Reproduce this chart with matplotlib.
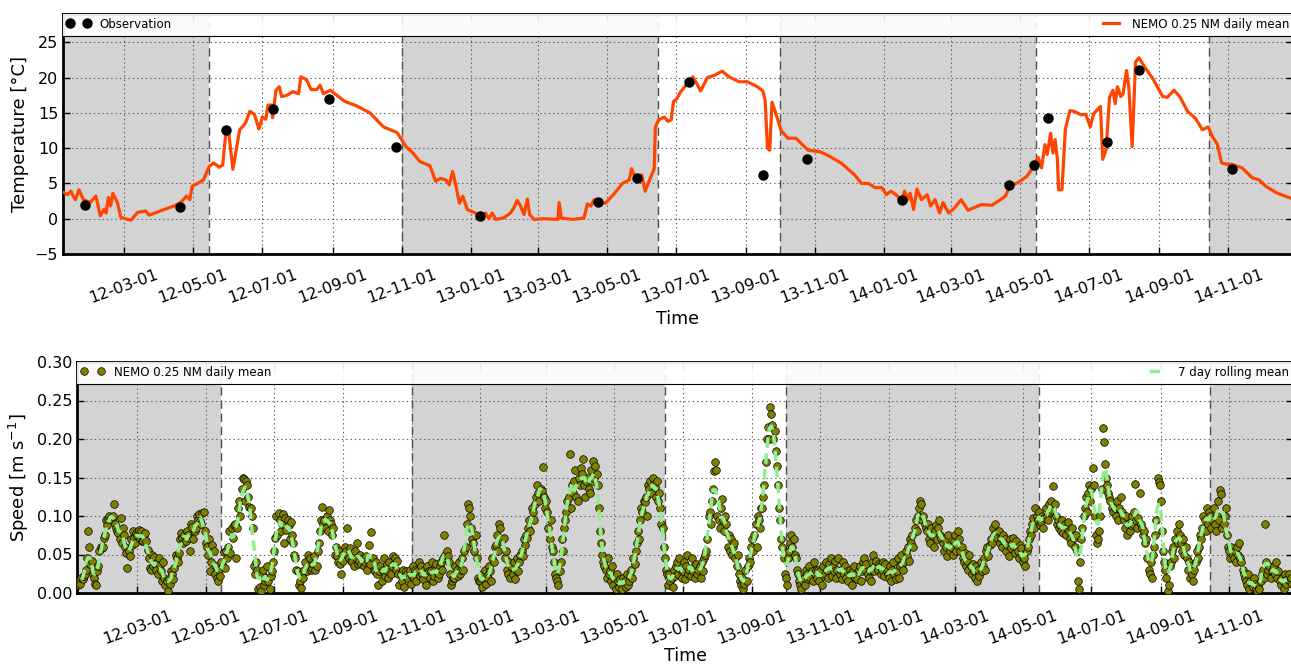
import numpy as np
import pandas as pd
import matplotlib
matplotlib.use('Agg')
import matplotlib.pyplot as plt
import matplotlib.dates as mdates
from matplotlib.patches import Rectangle

# ------------------------------------------------------------
# Temperature: NEMO daily mean (line vertices) and observations
# ------------------------------------------------------------
temp_dates = [
    '2012-01-08', '2012-01-11', '2012-01-14', '2012-01-16', '2012-01-18', '2012-01-21',
    '2012-01-25', '2012-01-31', '2012-02-05', '2012-02-09', '2012-02-12', '2012-02-14',
    '2012-02-16', '2012-02-18', '2012-02-20', '2012-02-24', '2012-02-27', '2012-03-04',
    '2012-03-07', '2012-03-13', '2012-03-20', '2012-03-23', '2012-04-02', '2012-04-14',
    '2012-04-20', '2012-04-25', '2012-04-28', '2012-04-30', '2012-05-06', '2012-05-10',
    '2012-05-15', '2012-05-19', '2012-05-24', '2012-05-27', '2012-05-30', '2012-06-01',
    '2012-06-05', '2012-06-08', '2012-06-11', '2012-06-16', '2012-06-20', '2012-06-24',
    '2012-06-28', '2012-07-01', '2012-07-04', '2012-07-06', '2012-07-09', '2012-07-10',
    '2012-07-13', '2012-07-16', '2012-07-18', '2012-07-23', '2012-07-28', '2012-08-02',
    '2012-08-04', '2012-08-09', '2012-08-13', '2012-08-18', '2012-08-21', '2012-08-24',
    '2012-08-30', '2012-09-03', '2012-09-12', '2012-09-22', '2012-10-04', '2012-10-16',
    '2012-10-28', '2012-11-05', '2012-11-11', '2012-11-17', '2012-11-26', '2012-12-01',
    '2012-12-05', '2012-12-10', '2012-12-13', '2012-12-16', '2012-12-19', '2012-12-22',
    '2012-12-25', '2012-12-29', '2013-01-05', '2013-01-10', '2013-01-14', '2013-01-17',
    '2013-01-20', '2013-01-23', '2013-01-30', '2013-02-05', '2013-02-08', '2013-02-11',
    '2013-02-14', '2013-02-17', '2013-02-20', '2013-02-22', '2013-02-26', '2013-03-07',
    '2013-03-19', '2013-03-20', '2013-03-22', '2013-04-01', '2013-04-11', '2013-04-14',
    '2013-04-17', '2013-04-20', '2013-04-26', '2013-04-30', '2013-05-08', '2013-05-15',
    '2013-05-21', '2013-05-23', '2013-05-27', '2013-06-01', '2013-06-04', '2013-06-08',
    '2013-06-12', '2013-06-13', '2013-06-16', '2013-06-21', '2013-06-24', '2013-06-27',
    '2013-06-29', '2013-07-02', '2013-07-05', '2013-07-11', '2013-07-16', '2013-07-19',
    '2013-07-23', '2013-07-29', '2013-08-04', '2013-08-11', '2013-08-17', '2013-08-26',
    '2013-09-02', '2013-09-10', '2013-09-16', '2013-09-18', '2013-09-20', '2013-09-22',
    '2013-09-24', '2013-09-28', '2013-10-02', '2013-10-08', '2013-10-15', '2013-10-26',
    '2013-11-05', '2013-11-12', '2013-11-24', '2013-12-06', '2013-12-12', '2013-12-18',
    '2013-12-24', '2013-12-30', '2014-01-03', '2014-01-07', '2014-01-13', '2014-01-16',
    '2014-01-19', '2014-01-22', '2014-01-24', '2014-01-27', '2014-01-30', '2014-02-03',
    '2014-02-08', '2014-02-11', '2014-02-15', '2014-02-19', '2014-02-22', '2014-02-27',
    '2014-03-04', '2014-03-10', '2014-03-16', '2014-03-28', '2014-04-06', '2014-04-12',
    '2014-04-18', '2014-04-22', '2014-04-29', '2014-05-07', '2014-05-11', '2014-05-14',
    '2014-05-17', '2014-05-20', '2014-05-23', '2014-05-25', '2014-05-28', '2014-05-30',
    '2014-06-01', '2014-06-03', '2014-06-04', '2014-06-07', '2014-06-10', '2014-06-14',
    '2014-06-18', '2014-06-24', '2014-06-28', '2014-07-02', '2014-07-05', '2014-07-11',
    '2014-07-13', '2014-07-16', '2014-07-19', '2014-07-22', '2014-07-24', '2014-07-26',
    '2014-07-29', '2014-07-31', '2014-08-03', '2014-08-05', '2014-08-08', '2014-08-11',
    '2014-08-14', '2014-08-19', '2014-08-26', '2014-09-04', '2014-09-08', '2014-09-14',
    '2014-09-19', '2014-09-26', '2014-10-03', '2014-10-09', '2014-10-14', '2014-10-18',
    '2014-10-22', '2014-10-26', '2014-10-31', '2014-11-04', '2014-11-13', '2014-11-22',
    '2014-11-28', '2014-12-04', '2014-12-13', '2014-12-21', '2014-12-28',
]
temp_values = [
    3.7, 3.4, 3.9, 3.2, 2.7, 4.1,
    2.7, 2.3, 3.2, 0.4, 1.3, 0.8,
    3.0, 1.8, 3.6, 2.3, 0.2, -0.1,
    -0.2, 0.9, 1.1, 0.5, 1.1, 1.8,
    2.3, 3.2, 2.7, 4.6, 5.1, 5.5,
    7.4, 7.9, 7.3, 7.6, 12.6, 12.6,
    7.0, 9.8, 12.6, 13.5, 15.2, 14.8,
    12.7, 14.4, 14.1, 16.1, 16.1, 14.3,
    18.2, 18.7, 17.3, 17.5, 18.0, 17.7,
    20.1, 19.7, 18.3, 18.3, 18.9, 17.7,
    18.2, 17.7, 16.6, 16.0, 15.0, 13.0,
    12.2, 10.2, 9.3, 8.1, 7.5, 5.3,
    5.7, 5.5, 4.8, 6.7, 4.6, 2.2,
    3.2, 1.3, 0.8, 0.4, 0.8, 0.0,
    0.8, -0.1, 0.1, 0.8, 1.5, 2.6,
    1.8, 0.6, 2.8, 0.6, -0.1, 0.0,
    -0.1, 2.3, 0.1, -0.1, 0.1, 2.1,
    1.8, 2.7, 2.2, 2.2, 3.6, 5.0,
    5.5, 7.1, 5.5, 6.2, 3.9, 5.5,
    7.1, 13.0, 14.0, 14.4, 13.8, 14.0,
    16.6, 17.0, 17.9, 19.1, 20.1, 19.3,
    18.1, 20.0, 20.3, 20.9, 20.1, 19.4,
    19.4, 18.8, 18.1, 16.7, 10.0, 9.7,
    16.5, 14.6, 12.5, 11.4, 11.4, 9.7,
    9.5, 9.0, 7.9, 6.2, 5.0, 5.0,
    4.4, 4.4, 3.4, 3.9, 3.2, 2.3,
    3.9, 2.7, 3.6, 1.3, 4.2, 2.7,
    3.4, 1.8, 2.7, 0.8, 2.3, 0.8,
    1.5, 2.7, 1.2, 2.0, 1.9, 2.5,
    3.2, 4.6, 5.1, 6.0, 6.9, 7.9,
    8.7, 7.2, 10.5, 9.1, 12.1, 9.3,
    11.2, 8.4, 4.1, 4.1, 12.7, 15.3,
    15.2, 14.7, 14.8, 13.0, 14.9, 15.9,
    8.4, 9.8, 17.2, 18.2, 16.3, 18.7,
    17.3, 17.7, 21.0, 18.7, 10.2, 22.2,
    22.8, 21.5, 19.9, 17.3, 17.2, 18.2,
    17.3, 15.2, 14.2, 12.6, 13.0, 11.6,
    10.6, 7.9, 7.7, 7.7, 7.2, 5.8,
    5.5, 4.6, 3.7, 3.2, 2.8,
]

obs_dates = [
    '2012-01-26', '2012-04-19', '2012-05-30', '2012-07-10', '2012-08-29', '2012-10-27',
    '2013-01-09', '2013-04-23', '2013-05-28', '2013-07-13', '2013-09-16', '2013-10-25',
    '2014-01-17', '2014-04-21', '2014-05-13', '2014-05-26', '2014-07-17', '2014-08-14',
    '2014-11-04',
]
obs_values = [
    1.9, 1.6, 12.5, 15.5, 16.9, 10.1,
    0.4, 2.4, 5.7, 19.3, 6.2, 8.4,
    2.6, 4.8, 7.6, 14.2, 10.9, 21.0,
    7.0,
]

# ------------------------------------------------------------
# Speed: NEMO daily mean [mm/s], one value per day
# ------------------------------------------------------------
speed_2012 = [  # from 2012-01-08
    10, 15, 12, 20, 18, 22, 25,  30, 45, 80, 60, 38, 42, 25,
    20, 12, 10, 28, 35, 55, 60,  58, 60, 72, 75, 95, 88, 96,
    100, 98, 95, 100, 115, 90, 85,  80, 78, 70, 98, 65, 85, 75,
    60, 52, 32, 55, 48, 70, 62,  80, 72, 65, 78, 75, 82, 70,
    80, 67, 68, 75, 78, 68, 56,  45, 32, 30, 50, 35, 47, 38,
    30, 25, 45, 36, 28, 15, 40,  20, 10, 15, 3, 18, 12, 28,
    25, 18, 33, 50, 45, 40, 52,  70, 78, 72, 65, 75, 68, 80,
    75, 72, 55, 90, 86, 70, 80,  85, 100, 95, 102, 93, 90, 104,
    105, 80, 65, 60, 50, 70, 28,  40, 62, 55, 25, 35, 20, 15,
    30, 22, 40, 35, 53, 32, 55,  45, 60, 80, 52, 85, 72, 88,
    90, 45, 85, 110, 120, 100, 135,  150, 148, 120, 145, 140, 125, 112,
    110, 100, 85, 35, 25, 40, 30,  5, 8, 2, 25, 30, 10, 15,
    20, 35, 15, 5, 22, 28, 40,  55, 72, 100, 75, 104, 95, 80,
    90, 102, 65, 98, 82, 95, 88,  70, 92, 75, 65, 50, 45, 30,
    28, 10, 15, 7, 25, 20, 30,  40, 28, 50, 35, 45, 30, 32,
    38, 48, 30, 35, 55, 65, 80,  95, 112, 90, 95, 85, 100, 80,
    108, 95, 90, 75, 85, 50, 60,  48, 40, 55, 38, 25, 50, 42,
    60, 55, 85, 50, 45, 58, 42,  40, 35, 55, 45, 65, 38, 42,
    50, 38, 45, 35, 40, 48, 30,  42, 62, 38, 79, 45, 30, 28,
    40, 25, 10, 28, 35, 15, 30,  45, 22, 30, 38, 20, 40, 25,
    35, 48, 38, 45, 30, 42, 25,  10, 25, 15, 30, 8, 22, 28,
    25, 18, 30, 12, 22, 35, 20,  30, 15, 28, 40, 22, 35, 25,
    18, 30, 25, 10, 35, 28, 20,  28, 40, 15, 22, 30, 38, 20,
    25, 35, 40, 30, 45, 75, 50,  55, 48, 40, 25, 10, 15, 20,
    20, 35, 30, 22, 40, 25, 30,  45, 30, 55, 60, 90, 115, 110,
    100, 85, 70, 65, 55, 75, 45,  20, 15,
]
speed_2013 = [
    15, 20, 8, 25, 30, 12, 22,  20, 35, 28, 15, 45, 40, 60,
    62, 75, 55, 90, 85, 68, 70,  72, 45, 55, 30, 25, 40, 20,
    35, 25, 40, 18, 30, 45, 28,  40, 50, 55, 48, 70, 62, 75,
    72, 85, 95, 80, 110, 105, 95,  115, 125, 140, 130, 120, 135, 132,
    163, 125, 110, 120, 105, 85, 70,  95, 60, 55, 40, 25, 20, 15,
    10, 28, 40, 70, 55, 85, 95,  105, 120, 125, 180, 110, 140, 130,
    145, 160, 125, 120, 150, 140, 162,  155, 174, 140, 125, 145, 150, 135,
    130, 160, 145, 171, 150, 165, 155,  140, 110, 80, 65, 50, 40, 35,
    30, 20, 45, 25, 28, 15, 35,  10, 20, 5, 25, 15, 8, 18,
    12, 5, 20, 15, 8, 25, 10,  15, 22, 30, 20, 45, 38, 55,
    65, 80, 70, 95, 110, 105, 120,  118, 125, 100, 140, 135, 145, 130,
    149, 142, 138, 125, 145, 120, 130,  110, 90, 85, 60, 45, 30, 25,
    10, 25, 15, 20, 8, 30, 22,  35, 40, 25, 45, 30, 20, 28,
    40, 18, 35, 50, 25, 30, 22,  45, 28, 35, 20, 38, 25, 30,
    35, 20, 40, 28, 45, 50, 55,  70, 100, 105, 90, 120, 135, 158,
    170, 160, 100, 95, 85, 110, 122,  95, 80, 100, 90, 60, 75, 55,
    70, 50, 60, 65, 45, 35, 50,  25, 15, 10, 20, 5, 12, 30,
    15, 35, 45, 40, 60, 70, 55,  75, 90, 60, 100, 95, 85, 110,
    110, 125, 140, 170, 200, 216, 200,  242, 232, 218, 200, 210, 185, 165,
    140, 110, 95, 70, 60, 45, 25,  20, 10, 45, 55, 65, 75, 60,
    70, 50, 45, 30, 25, 15, 10,  5, 15, 20, 10, 30, 25, 18,
    35, 20, 28, 15, 40, 25, 30,  20, 30, 15, 28, 10, 35, 22,
    25, 40, 30, 20, 38, 45, 22,  35, 28, 42, 20, 30, 45, 25,
    30, 18, 40, 25, 35, 20, 28,  15, 30, 25, 10, 28, 35, 20,
    25, 18, 30, 35, 15, 28, 40,  45, 30, 38, 25, 20, 30, 15,
    40, 50, 28, 35, 42, 30, 38,  35, 25, 30, 40, 22, 38, 28,
    25,
]
speed_2014 = [  # to 2014-12-27
    20, 35, 15, 30, 40, 25, 18,  28, 45, 20, 35, 50, 38, 30,
    40, 55, 48, 60, 42, 70, 65,  75, 60, 85, 95, 80, 100, 110,
    120, 115, 95, 100, 90, 85, 80,  90, 70, 65, 85, 75, 60, 80,
    88, 70, 85, 95, 75, 72, 65,  55, 70, 60, 48, 75, 62, 55,
    60, 50, 68, 75, 55, 62, 80,  70, 55, 60, 45, 40, 52, 35,
    42, 30, 50, 35, 25, 38, 28,  20, 35, 15, 30, 22, 40, 28,
    35, 45, 30, 55, 60, 48, 62,  70, 65, 85, 75, 90, 78, 72,
    80, 65, 72, 60, 75, 68, 70,  55, 62, 48, 70, 58, 65, 72,
    60, 52, 68, 55, 45, 62, 58,  50, 40, 45, 35, 55, 60, 70,
    80, 75, 90, 98, 85, 110, 100,  95, 105, 88, 92, 100, 85, 98,
    110, 100, 95, 115, 105, 120, 108,  139, 115, 100, 90, 95, 85, 88,
    80, 95, 78, 90, 75, 85, 92,  80, 70, 65, 85, 72, 60, 75,
    55, 15, 5, 40, 70, 85, 100,  110, 125, 105, 130, 140, 120, 135,
    162, 140, 100, 75, 65, 70, 80,  100, 135, 214, 196, 168, 150, 140,
    130, 125, 120, 110, 105, 115, 110,  100, 120, 95, 110, 125, 105, 100,
    95, 85, 100, 75, 90, 80, 88,  100, 90, 105, 141, 95, 85, 98,
    130, 90, 85, 75, 80, 65, 70,  45, 30, 25, 40, 20, 50, 60,
    75, 95, 150, 144, 140, 120, 80,  55, 40, 30, 20, 3, 10, 35,
    40, 55, 60, 45, 70, 80, 65,  90, 75, 65, 55, 70, 50, 60,
    45, 30, 40, 20, 35, 25, 15,  30, 40, 55, 45, 60, 75, 70,
    85, 100, 95, 80, 110, 90, 105,  100, 85, 95, 110, 90, 80, 100,
    120, 95, 134, 129, 85, 90, 100,  110, 75, 60, 55, 45, 60, 50,
    45, 55, 40, 60, 50, 65, 45,  40, 30, 25, 20, 15, 10, 25,
    5, 15, 10, 8, 20, 12, 5,  2, 10, 5, 15, 25, 30, 20,
    90, 40, 25, 30, 35, 20, 28,  30, 35, 25, 40, 20, 28, 15,
    10, 20, 15, 5, 25, 12, 18,  25, 15, 20, 12,
]

# shaded seasons and their boundaries
grey_starts = ['2011-12-01', '2012-11-01', '2013-10-01', '2014-10-15']
grey_ends = ['2012-05-15', '2013-06-15', '2014-05-15', '2015-02-01']
season_edges = ['2012-05-15', '2012-11-01', '2013-06-15', '2013-10-01', '2014-05-15', '2014-10-15']

# ------------------------------------------------------------
# build series
# ------------------------------------------------------------
t_model = pd.to_datetime(temp_dates)
t_obs = pd.to_datetime(obs_dates)

speed = pd.concat([
    pd.Series(speed_2012, index=pd.date_range('2012-01-08', periods=len(speed_2012), freq='D')),
    pd.Series(speed_2013, index=pd.date_range('2013-01-01', periods=len(speed_2013), freq='D')),
    pd.Series(speed_2014, index=pd.date_range('2014-01-01', periods=len(speed_2014), freq='D')),
]) / 1000.0
speed_roll = speed.rolling(7, center=True).mean()

xmin, xmax = pd.Timestamp('2012-01-07'), pd.Timestamp('2014-12-28')

W, H = 1291, 666
fig = plt.figure(figsize=(W / 100, H / 100), dpi=100)
ax1 = fig.add_axes([63 / W, 1 - 254 / H, 1230 / W, 240 / H])
ax2 = fig.add_axes([77 / W, 1 - 593 / H, 1216 / W, 231 / H])


def decorate(ax, strip_px, height_px, xpad, labelpad):
    ax.set_xlim(xmin, xmax)
    for s, e in zip(grey_starts, grey_ends):
        ax.axvspan(pd.Timestamp(s), pd.Timestamp(e), color='lightgray', lw=0, zorder=0)
    for d in season_edges:
        ax.axvline(pd.Timestamp(d), color='0.3', lw=1.0, dashes=(6, 3.5), zorder=1)
    ax.grid(True, color='0.35', linestyle=(0, (1.2, 2.7)), linewidth=0.8)
    ax.xaxis.set_major_locator(mdates.MonthLocator(bymonth=[1, 3, 5, 7, 9, 11]))
    ax.xaxis.set_major_formatter(mdates.DateFormatter('%y-%m-%d'))
    ax.tick_params(direction='in', top=True, right=True, length=5, width=1,
                   labelsize=11.5)
    ax.tick_params(axis='x', pad=xpad)
    plt.setp(ax.get_xticklabels(), rotation=20, ha='center')
    for sp in ax.spines.values():
        sp.set_linewidth(2)
    # legend strip along the top
    f = strip_px / height_px
    ax.add_patch(Rectangle((0, 1 - f), 1, f, transform=ax.transAxes,
                           facecolor='white', alpha=0.9, edgecolor='none', zorder=4.5))
    ax.plot([0, 1], [1 - f, 1 - f], transform=ax.transAxes, color='k', lw=0.8, zorder=4.6)
    ax.set_xlabel('Time', fontsize=12.5, labelpad=labelpad)


# --- temperature panel
decorate(ax1, 22, 240, 9.5, 3)
obs_line, = ax1.plot(t_obs, obs_values, 'o', color='k', ms=6.5, zorder=4, label='Observation')
model_line, = ax1.plot(t_model, temp_values, '-', color='#ff4500', lw=2.3, zorder=3,
                       label='NEMO 0.25 NM daily mean')
ax1.set_ylim(-5, 29)
ax1.set_yticks(np.arange(-5, 26, 5))
ax1.set_ylabel('Temperature [°C]', fontsize=13)

leg_kw = dict(frameon=False, fontsize=8.5, borderaxespad=0, borderpad=0.3, numpoints=2)
leg = ax1.legend(handles=[obs_line], loc='upper left', **leg_kw)
leg.set_zorder(6)
ax1.add_artist(leg)
leg = ax1.legend(handles=[model_line], loc='upper right', **leg_kw)
leg.set_zorder(6)

# --- speed panel
decorate(ax2, 22, 231, 11, 0)
pts, = ax2.plot(speed.index, speed.values, 'o', mfc='olive', mec='k', mew=0.5, ms=5.5,
                zorder=3, label='NEMO 0.25 NM daily mean')
roll, = ax2.plot(speed_roll.index, speed_roll.values, color='lightgreen', lw=2.5,
                 dashes=(3, 1.6), zorder=4, label='7 day rolling mean')
ax2.set_ylim(0, 0.30)
ax2.set_yticks(np.arange(0, 0.301, 0.05))
ax2.yaxis.set_major_formatter(matplotlib.ticker.FormatStrFormatter('%.2f'))
ax2.set_ylabel('Speed [m s$^{-1}$]', fontsize=13)

leg = ax2.legend(handles=[pts], loc='upper left', **leg_kw)
leg.set_zorder(6)
ax2.add_artist(leg)
leg = ax2.legend(handles=[roll], loc='upper right', **leg_kw)
leg.set_zorder(6)

fig.savefig('out.png', dpi=100)
